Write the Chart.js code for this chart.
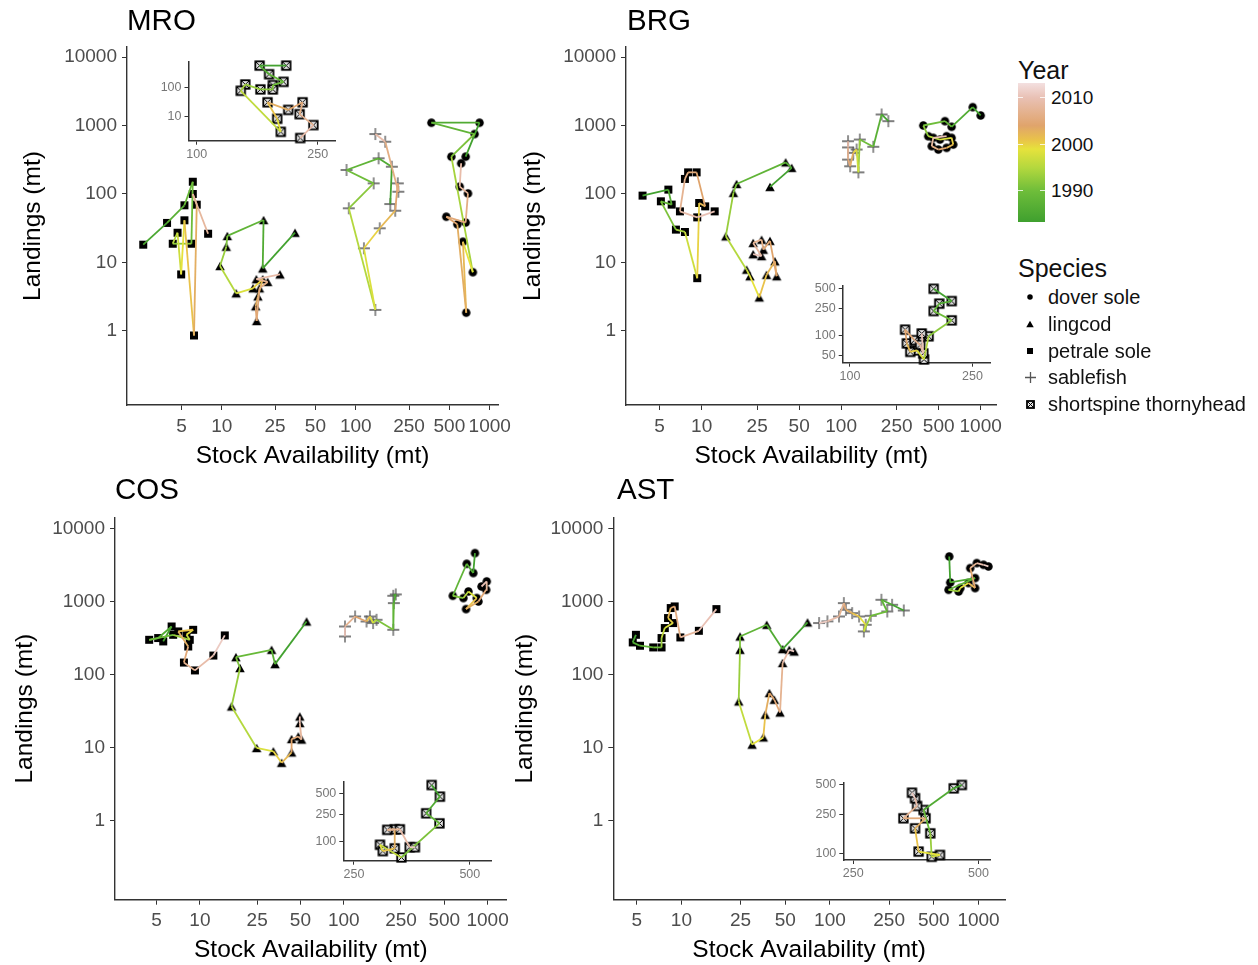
<!DOCTYPE html>
<html><head><meta charset="utf-8">
<script src="https://cdn.jsdelivr.net/npm/chart.js@4.4.1/dist/chart.umd.min.js"></script>
<style>
html,body{margin:0;padding:0;background:#fff;}
body{width:1258px;height:965px;position:relative;overflow:hidden;font-family:"Liberation Sans",Arial,sans-serif;}
canvas{position:absolute;}
.lg{position:absolute;white-space:nowrap;line-height:1;color:#111;}
</style></head><body>
<script>
// ---------- DATA: [stock availability (mt), landings (mt), year] ----------
const mainXTicks = [5, 10, 25, 50, 100, 250, 500, 1000];
const mainYTicks = [1, 10, 100, 1000, 10000];
const yearTicks = [1990, 2000, 2010];
const speciesNames = ['dover sole', 'lingcod', 'petrale sole', 'sablefish', 'shortspine thornyhead'];

// MRO
const mroDover = [[661,351,1984],[839,1099,1986],[367,1099,1988],[771,751,1991],[517,351,1994],[748,7.2,1999],[631,20.1,2002],[668,1.85,2003],[573,36.1,2004],[474,46.6,2005],[661,38.3,2006],[688,102,2008],[597,128,2009],[612,281,2011]];
const mroLingcod = [[35.2,27.2,1984],[20.2,8.2,1986],[20.5,41.7,1988],[11.0,24.4,1991],[10.8,17.0,1993],[9.7,8.9,1995],[12.8,3.55,1998],[17.1,4.2,2000],[20.2,5.7,2002],[18.6,3.2,2003],[17.9,2.3,2004],[18.2,1.4,2005],[19.1,4.2,2006],[22.0,5.2,2007],[18.1,5.7,2009],[27.2,6.7,2011]];
const mroPetrale = [[2.59,18.2,1985],[3.9,37.8,1987],[5.26,68.4,1989],[6.07,151,1990],[5.93,18.8,1992],[4.3,18.8,1995],[4.67,27.2,1997],[4.97,6.7,1999],[5.26,41.3,2001],[6.2,0.86,2003],[6.5,69.8,2005],[6.07,100,2008],[7.9,26.3,2011]];
const mroSablefish = [[181,71.4,1984],[186,250,1986],[148,332,1988],[85.3,224,1990],[136,143,1992],[88.7,61.8,1995],[140,2.03,1998],[115,16.1,2000],[151,31.6,2002],[197,57,2004],[206,143,2005],[208,108,2006],[166,580,2009],[140,751,2011]];
const mroThorny = [[197,560,1984],[161,560,1986],[173,283,1988],[193,155,1990],[178,120,1991],[178,85.5,1992],[162,85.5,1993],[144.5,126,1994],[139.6,76.6,1996],[189,3.0,1999],[184,8.4,2001],[171,30.9,2003],[200,16.9,2004],[223,30.9,2006],[218,12.1,2007],[242,5.1,2009],[219,1.84,2011]];

// BRG
const brgDover = [[1000,1400,1984],[877,1853,1986],[619,957,1988],[555,1156,1990],[388,1000,1992],[421,698,1995],[511,624,1998],[619,661,2000],[636,527,2002],[570,472,2004],[497,446,2006],[446,499,2008],[457,661,2010],[570,698,2012]];
const brgLingcod = [[30.9,127,1984],[44.2,241,1986],[40,290,1988],[17.8,140,1991],[16.9,104,1993],[14.9,24.1,1995],[21,7.85,1997],[22.2,6.3,1999],[25.9,3.09,2001],[29.2,6.6,2002],[33.5,10.4,2003],[34.5,6.3,2004],[30.9,20.7,2005],[27.7,15.4,2006],[26.9,21.5,2007],[23.4,19.3,2008],[26.9,12.4,2010],[23.4,13.2,2012]];
const brgPetrale = [[3.77,94.8,1984],[5.77,116,1986],[6.1,70,1988],[5.1,78.2,1991],[6.54,30.2,1994],[7.59,27.9,1997],[9.3,5.9,2000],[9.6,74,2002],[10.6,66,2004],[9.2,207,2005],[8.0,207,2006],[7.59,166,2007],[6.99,55.8,2009],[9.3,45.6,2010],[12.4,55.8,2012]];
const brgSablefish = [[218,1156,1984],[195,1449,1987],[170,489,1990],[136,624,1993],[133,207,1997],[129,446,2000],[122,399,2003],[116,254,2005],[112,318,2007],[112,479,2009],[112,590,2011]];
const brgThorny = [[187,500,1984],[214,326,1986],[195,298,1988],[187,231,1990],[214,167,1992],[180,96,1995],[174,43,1998],[165,59,2000],[157,56,2002],[153,75,2004],[151,121,2005],[162,84,2007],[169,71,2008],[173,53,2010],[171,106,2012]];

// COS
const cosDover = [[817,4592,1984],[795,2449,1986],[716,3281,1988],[573,1197,1991],[679,1114,1995],[736,1370,1998],[841,1114,2001],[708,787,2003],[863,1000,2005],[977,1445,2008],[986,1880,2010],[908,1603,2012]];
const cosLingcod = [[55.2,532,1984],[33.3,139,1987],[31.5,218,1989],[17.8,173,1991],[19,123,1993],[16.6,36.6,1995],[24.8,9.9,1998],[32.4,8.9,2000],[37,6.2,2002],[43.4,8.6,2004],[43.4,13.1,2005],[48.3,14.2,2006],[50.9,12.9,2008],[49.5,21.7,2010],[49.5,26.7,2012]];
const cosPetrale = [[5.56,284,1984],[6.36,455,1986],[5.13,316,1988],[4.44,299,1990],[6.52,350,1993],[8.5,299,1996],[8.07,350,1999],[8.98,410,2001],[7.07,389,2003],[8.3,242,2005],[7.74,146,2007],[9.23,114,2009],[12.4,182,2011],[14.9,343,2012]];
const cosSablefish = [[221,1197,1984],[230,1250,1986],[223,950,1988],[221,410,1991],[169,562,1995],[160,507,1998],[152,623,2001],[144,532,2004],[120,623,2007],[102,455,2010],[102,332,2012]];
const cosThorny = [[398,659,1984],[418,447,1986],[385,257,1988],[417,184,1991],[332,59,1996],[292,90,1999],[297,73,2001],[319,80,2003],[319,151,2005],[305,148,2007],[329,151,2009],[349,83,2011],[360,83,2012]];

// AST
const astDover = [[635,4128,1984],[645,1820,1986],[948,2090,1988],[628,1445,1993],[735,1370,1997],[754,1525,1999],[855,1786,2002],[948,1525,2004],[879,2864,2007],[973,3349,2009],[1079,3177,2011],[1165,3013,2012]];
const astLingcod = [[70.6,517,1984],[48,223,1986],[37.5,480,1988],[24.8,332,1991],[24.8,218,1993],[24.3,42.9,1996],[29.9,11,1999],[35.6,13.8,2001],[36.7,28.2,2003],[39.1,55.8,2004],[42.2,45.2,2005],[46.1,30.3,2007],[48,144,2009],[53.2,218,2011],[57.4,207,2012]];
const astPetrale = [[4.94,350,1984],[4.7,275,1986],[5.26,248,1988],[6.46,235,1990],[7.35,235,1993],[7.35,316,1996],[7.73,433,1998],[8.79,507,2000],[8.13,593,2002],[8.47,813,2004],[9.01,855,2006],[9.84,322,2008],[13.1,397,2010],[17.2,787,2012]];
const astSablefish = [[314,753,1984],[262,901,1986],[222,1055,1988],[243,729,1990],[188,637,1993],[169,389,1997],[174,480,1999],[157,623,2001],[141,693,2003],[128,770,2005],[124,950,2007],[115,623,2009],[96.1,534,2011],[84.5,507,2012]];
const astThorny = [[456,500,1984],[436,462,1986],[369,277,1989],[383,160,1993],[386,92,1997],[404,96,1999],[359,104,2001],[352,180,2003],[373,228,2005],[330,228,2007],[356,305,2009],[352,366,2011],[346,417,2012]];

// ---------- STYLE ----------
const FONT = '"Liberation Sans", Arial, sans-serif';
Chart.defaults.font.family = FONT;
const stopYears = [1983, 1990, 1995, 1999, 2001, 2004, 2010, 2013];
const stopColors = ['#3c9e2e','#6ebd3a','#b4d83e','#e6e23c','#e9c24a','#e0a46c','#e9c1b5','#f3dfdf'];
function hex(h){return [1,3,5].map(i=>parseInt(h.substr(i,2),16));}
function yearColor(y){
  if(y<=stopYears[0]) return stopColors[0];
  for(let i=1;i<stopYears.length;i++){
    if(y<=stopYears[i]){
      const t=(y-stopYears[i-1])/(stopYears[i]-stopYears[i-1]);
      const a=hex(stopColors[i-1]), b=hex(stopColors[i]);
      return 'rgb('+a.map((v,k)=>Math.round(v+(b[k]-v)*t)).join(',')+')';
    }
  }
  return stopColors[stopColors.length-1];
}
function marker(kind, s){
  const c=document.createElement('canvas');
  const n=Math.ceil(s)+4; c.width=n; c.height=n;
  const g=c.getContext('2d'); const m=n/2;
  g.fillStyle='#000'; g.strokeStyle='#000';
  if(kind==='circle'){g.beginPath();g.arc(m,m,s/2,0,Math.PI*2);g.fill();}
  else if(kind==='triangle'){const h=s*0.88;g.beginPath();g.moveTo(m,m-h/2);g.lineTo(m+s/2,m+h/2);g.lineTo(m-s/2,m+h/2);g.closePath();g.fill();}
  else if(kind==='square'){g.fillRect(m-s/2,m-s/2,s,s);}
  else if(kind==='plus'){g.strokeStyle='#555';g.lineWidth=1.3;g.beginPath();g.moveTo(m-s/2,m);g.lineTo(m+s/2,m);g.moveTo(m,m-s/2);g.lineTo(m,m+s/2);g.stroke();}
  else if(kind==='sqcross'){g.fillStyle='#e6e6e6';g.fillRect(m-s/2,m-s/2,s,s);g.lineWidth=1.8;g.strokeRect(m-s/2,m-s/2,s,s);g.lineWidth=1;g.beginPath();g.moveTo(m-s/2,m-s/2);g.lineTo(m+s/2,m+s/2);g.moveTo(m+s/2,m-s/2);g.lineTo(m-s/2,m+s/2);g.stroke();}
  return c;
}
const MK = {dover:['circle',8.5], lingcod:['triangle',9.5], petrale:['square',8], sablefish:['plus',12], thorny:['sqcross',8.5]};

function buildChart(cfg){
  const r=cfg.rect, a=cfg.area;
  const cv=document.createElement('canvas');
  cv.width=r.w; cv.height=r.h;
  cv.style.left=r.x+'px'; cv.style.top=r.y+'px';
  cv.style.width=r.w+'px'; cv.style.height=r.h+'px';
  document.body.appendChild(cv);
  const datasets=[];
  cfg.series.forEach(s=>{
    const pts=s.data.map(d=>({x:d[0],y:d[1],year:d[2]}));
    datasets.push({data:pts, showLine:true, pointRadius:0, borderWidth:1.8, borderColor:'#999', tension:0, order:0, clip:false,
      segment:{borderColor:c=>yearColor(pts[c.p0DataIndex].year)}});
    const mk=MK[s.kind];
    datasets.push({data:pts, showLine:false, pointStyle:marker(mk[0],mk[1]), pointRadius:4, order:1, clip:false});
  });
  const inset=!!cfg.inset;
  const tickFont={size: inset?12.5:19, family:FONT};
  const tickColor= inset?'#777':'#4d4d4d';
  const axisCommon={
    type:'logarithmic',
    grid:{display:true, drawOnChartArea:false, drawTicks:true, tickLength: inset?4:5, color:'#333', lineWidth:1},
    border:{display:true, color:'#333', width: inset?1.5:1.4},
  };
  const plugins=[];
  if(cfg.title){
    plugins.push({id:'ttl', afterDraw(ch){const g=ch.ctx;g.save();g.font='29.5px '+FONT;g.fillStyle='#000';g.textBaseline='middle';g.textAlign='left';g.fillText(cfg.title,cfg.titlePos[0]-r.x,cfg.titlePos[1]-r.y);g.restore();}});
  }
  new Chart(cv,{
    type:'scatter',
    data:{datasets},
    options:{
      responsive:false, animation:false, devicePixelRatio:1, events:[],
      layout:{padding:{left:0, top:a.top-r.y, right:r.x+r.w-a.right, bottom:0}},
      plugins:{legend:{display:false}, tooltip:{enabled:false}},
      scales:{
        x:Object.assign({}, axisCommon, {
          min:cfg.xRange[0], max:cfg.xRange[1],
          afterBuildTicks:s=>{s.ticks=cfg.xTicks.map(v=>({value:v}));},
          afterFit:s=>{s.height=r.y+r.h-a.bottom;},
          ticks:{autoSkip:false, maxRotation:0, minRotation:0, color:tickColor, font:tickFont, padding: inset?2:5, callback:v=>String(v)},
          title: inset?{display:false}:{display:true, text:'Stock Availability (mt)', color:'#000', font:{size:24.5, family:FONT}, padding:{top:0, bottom:cfg.xTitlePad}}
        }),
        y:Object.assign({}, axisCommon, {
          min:cfg.yRange[0], max:cfg.yRange[1],
          afterBuildTicks:s=>{s.ticks=cfg.yTicks.map(v=>({value:v}));},
          afterFit:s=>{s.width=a.left-r.x;},
          ticks:{autoSkip:false, color:tickColor, font:tickFont, padding: inset?3:5, callback:v=>String(v)},
          title: inset?{display:false}:{display:true, text:'Landings (mt)', color:'#000', font:{size:24.5, family:FONT}, padding:{top:cfg.yTitlePad, bottom:0}}
        })
      }
    },
    plugins
  });
}

const yMain=[0.083, 14000];
buildChart({title:'MRO', titlePos:[127,22], rect:{x:0,y:0,w:520,h:475}, area:{left:127,top:47,right:498,bottom:405},
  xRange:[1.96,1153], yRange:yMain, xTicks:mainXTicks, yTicks:mainYTicks, xTitlePad:4.4, yTitlePad:18.3,
  series:[{kind:'dover',data:mroDover},{kind:'lingcod',data:mroLingcod},{kind:'petrale',data:mroPetrale},{kind:'sablefish',data:mroSablefish}]});
buildChart({title:'BRG', titlePos:[627,22], rect:{x:500,y:0,w:510,h:475}, area:{left:626,top:47,right:996.7,bottom:405},
  xRange:[2.87,1303], yRange:yMain, xTicks:mainXTicks, yTicks:mainYTicks, xTitlePad:4.4, yTitlePad:18.3,
  series:[{kind:'dover',data:brgDover},{kind:'lingcod',data:brgLingcod},{kind:'petrale',data:brgPetrale},{kind:'sablefish',data:brgSablefish}]});
buildChart({title:'COS', titlePos:[115,491], rect:{x:0,y:470,w:520,h:495}, area:{left:115,top:517.7,right:506.7,bottom:899.7},
  xRange:[2.57,1358], yRange:yMain, xTicks:mainXTicks, yTicks:mainYTicks, xTitlePad:0.5, yTitlePad:10.3,
  series:[{kind:'dover',data:cosDover},{kind:'lingcod',data:cosLingcod},{kind:'petrale',data:cosPetrale},{kind:'sablefish',data:cosSablefish}]});
buildChart({title:'AST', titlePos:[617,491], rect:{x:500,y:470,w:510,h:495}, area:{left:613.3,top:517.7,right:1006.7,bottom:899.7},
  xRange:[3.48,1507], yRange:yMain, xTicks:mainXTicks, yTicks:mainYTicks, xTitlePad:0.5, yTitlePad:10.3,
  series:[{kind:'dover',data:astDover},{kind:'lingcod',data:astLingcod},{kind:'petrale',data:astPetrale},{kind:'sablefish',data:astSablefish}]});

// insets (shortspine thornyhead)
buildChart({inset:true, rect:{x:150,y:50,w:195,h:115}, area:{left:188.5,top:62,right:335,bottom:140.7},
  xRange:[94,285], yRange:[1.49,743], xTicks:[100,250], yTicks:[10,100], series:[{kind:'thorny',data:mroThorny}]});
buildChart({inset:true, rect:{x:800,y:275,w:200,h:110}, area:{left:842.7,top:285,right:990,bottom:362.7},
  xRange:[94.7,285], yRange:[38.4,560], xTicks:[100,250], yTicks:[50,100,250,500], series:[{kind:'thorny',data:brgThorny}]});
buildChart({inset:true, rect:{x:300,y:770,w:200,h:115}, area:{left:343.3,top:781.7,right:491.7,bottom:860.7},
  xRange:[234.5,570], yRange:[53,736], xTicks:[250,500], yTicks:[100,250,500], series:[{kind:'thorny',data:cosThorny}]});
buildChart({inset:true, rect:{x:800,y:770,w:200,h:115}, area:{left:843.3,top:783,right:990,bottom:860},
  xRange:[236.6,533], yRange:[85.3,524], xTicks:[250,500], yTicks:[100,250,500], series:[{kind:'thorny',data:astThorny}]});

// ---------- LEGEND ----------
function addText(txt,left,cy,size){
  const d=document.createElement('div'); d.className='lg'; d.textContent=txt;
  d.style.left=left+'px'; d.style.top=(cy-size/2)+'px'; d.style.fontSize=size+'px'; d.style.height=size+'px';
  document.body.appendChild(d); return d;
}
addText('Year',1018,70,25);
const barTop=83.3, barH=138.4, yTop=2013.1, yBot=1983.4;
const bar=document.createElement('div');
bar.style.cssText='position:absolute;left:1018px;top:'+barTop+'px;width:27px;height:'+barH+'px;';
const gstops=[];
for(let i=stopYears.length-1;i>=0;i--){
  const p=(yTop-stopYears[i])/(yTop-yBot)*100;
  gstops.push(stopColors[i]+' '+p.toFixed(1)+'%');
}
bar.style.background='linear-gradient(to bottom,'+gstops.join(',')+')';
document.body.appendChild(bar);
yearTicks.forEach(yr=>{
  const cy=barTop+(yTop-yr)/(yTop-yBot)*barH;
  ['1018','1040'].forEach(lx=>{
    const t=document.createElement('div');
    t.style.cssText='position:absolute;left:'+lx+'px;top:'+(cy-0.5)+'px;width:5px;height:1px;background:rgba(255,255,255,0.8);';
    document.body.appendChild(t);
  });
  addText(String(yr),1051,cy,19);
});
addText('Species',1018,268,25);
const legMk=[['circle',5.5],['triangle',7.5],['square',6],['plus',11],['sqcross',7]];
speciesNames.forEach((nm,i)=>{
  const cy=297+i*26.75;
  const c=marker(legMk[i][0],legMk[i][1]);
  c.style.left=(1030-c.width/2)+'px'; c.style.top=(cy-c.height/2)+'px';
  document.body.appendChild(c);
  addText(nm,1048,cy,20);
});
</script>
</body></html>
